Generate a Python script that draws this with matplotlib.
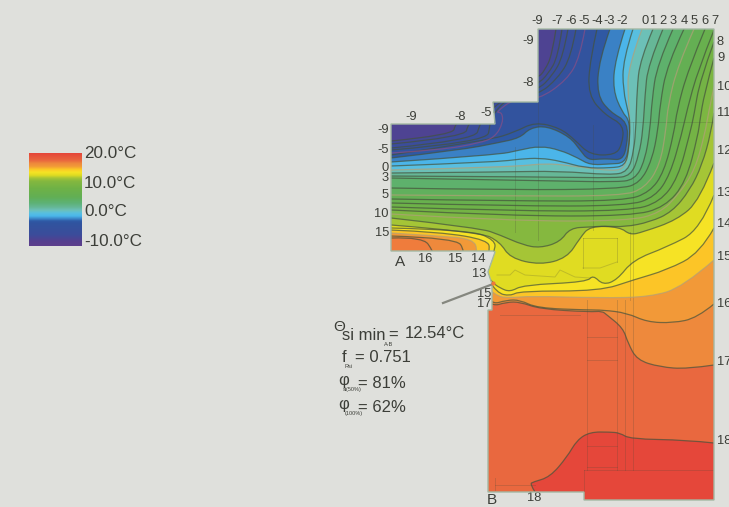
import matplotlib
matplotlib.use("Agg")
import matplotlib.pyplot as plt
import numpy as np
from matplotlib.colors import LinearSegmentedColormap
from matplotlib.patches import PathPatch
from matplotlib.path import Path

plt.rcParams['font.family'] = ['Liberation Sans', 'DejaVu Sans']

# axes run in picture pixels, so everything below was read straight off the reference
BG = "#dfe0dc"
TEXT = "#3c3e38"

# temperature scale of the legend
scale_temps = [-11.7, -10, -8, -4, -3.2, -2.5, -1.5, -0.5, 0.5, 1.5, 3, 5, 8, 10.5, 11.5, 12.5, 13.5, 14.5, 15.5, 16.5, 17.5, 20]
scale_colors = ["#5d3f8c", "#54408f", "#3c4c9a", "#30549f", "#2f5aa6", "#3a82c6", "#4bb6ea", "#58bfe0",
                "#6cc0b8", "#66b797", "#5db274", "#62af55", "#6fb246", "#85b83f", "#a5c536", "#e0dc22",
                "#f6e425", "#fcc726", "#f29a38", "#ee8a3c", "#e9683f", "#e5463a"]

# domain outline
domain_x = [538, 714, 714, 584, 584, 488, 488, 492, 492, 488, 495, 493, 391, 391, 495, 493, 538]
domain_y = [29, 29, 500, 500, 492, 492, 310, 310, 284, 272, 252, 251, 251, 124, 124, 102, 102]

# isotherms, each from the top or right edge round to the left edge
iso_m9 = [(556, 29), (552, 55), (545, 70), (538, 78), (500, 90), (470, 110), (455, 124), (453, 135), (391, 141)]
iso_m8 = [(562, 29), (558, 57), (548, 74), (538, 84), (510, 92), (480, 112), (468, 124), (465, 137), (391, 144)]
iso_m7 = [(568, 29), (563, 57), (552, 76), (538, 90), (510, 94), (485, 115), (480, 124), (475, 140), (391, 148)]
iso_m6 = [(576, 29), (571, 57), (558, 78), (538, 95), (510, 96), (492, 115), (490, 124), (487, 142), (391, 150)]
iso_m5 = [(585, 29), (580, 57), (567, 80), (538, 100), (515, 98), (495, 113), (502, 112), (503, 123), (495, 137), (480, 143), (440, 150), (391, 153)]
iso_m4 = [(597, 29), (590, 60), (588, 95), (605, 115), (624, 125), (622, 145), (615, 155), (590, 155), (575, 140), (560, 128), (535, 122), (515, 132), (490, 140), (391, 155)]
iso_m3 = [(610, 29), (599, 60), (597, 95), (610, 112), (628, 122), (627, 147), (622, 160), (610, 159), (600, 159), (588, 160), (580, 150), (570, 137), (547, 126), (530, 128), (520, 138), (497, 143), (460, 150), (391, 158)]
iso_m2 = [(625, 29), (615, 60), (613, 90), (622, 112), (630, 121), (629, 147), (625, 163), (610, 164), (590, 165), (578, 158), (560, 150), (540, 146), (520, 150), (497, 155), (391, 162)]
iso_m1 = [(633, 29), (623, 60), (623, 90), (629, 115), (630, 125), (629, 150), (625, 166), (610, 168), (585, 168), (560, 161), (540, 158), (520, 159), (497, 162), (391, 166)]
iso_0 = [(642, 29), (628, 67), (628, 97), (630, 120), (629, 147), (625, 168), (613, 171), (580, 167), (547, 163), (513, 167), (391, 170)]
iso_1 = [(653, 29), (640, 60), (637, 90), (636, 125), (634, 150), (628, 172), (610, 175), (560, 171), (500, 172), (391, 173)]
iso_2 = [(663, 29), (648, 65), (645, 95), (643, 130), (639, 155), (631, 176), (612, 178), (560, 177), (391, 176)]
iso_3 = [(673, 29), (657, 65), (652, 100), (650, 130), (645, 160), (635, 180), (614, 182), (560, 181), (391, 178)]
iso_4 = [(684, 29), (667, 65), (660, 105), (658, 130), (652, 160), (640, 183), (620, 189), (510, 190), (391, 188)]
iso_5 = [(694, 29), (678, 65), (668, 105), (666, 130), (660, 165), (645, 188), (622, 196), (510, 196), (391, 195)]
iso_6 = [(705, 29), (688, 70), (677, 110), (674, 133), (664, 172), (650, 192), (625, 201), (510, 201), (391, 199)]
iso_7 = [(714, 30), (698, 70), (687, 110), (682, 133), (670, 175), (655, 197), (628, 206), (510, 206), (391, 203)]
iso_8 = [(714, 42), (700, 80), (694, 115), (690, 133), (678, 178), (660, 202), (630, 211), (510, 211), (391, 207)]
iso_9 = [(714, 58), (704, 95), (700, 120), (698, 135), (686, 182), (665, 207), (632, 216), (510, 216), (391, 210)]
iso_10 = [(714, 87), (708, 115), (705, 133), (695, 170), (678, 195), (660, 213), (628, 221), (510, 221), (391, 214)]
iso_11 = [(714, 113), (711, 133), (702, 165), (690, 190), (672, 212), (650, 222), (625, 227), (605, 226), (590, 227), (570, 228), (560, 242), (540, 248), (523, 245), (500, 235), (480, 228), (391, 218)]
iso_12 = [(714, 163), (700, 200), (677, 220), (643, 232), (630, 235), (620, 227), (590, 226), (580, 238), (567, 258), (540, 265), (510, 258), (500, 242), (480, 232), (391, 225)]
iso_13 = [(714, 195), (700, 230), (667, 247), (633, 260), (617, 280), (603, 285), (593, 275), (587, 282), (523, 285), (510, 292), (500, 288), (493, 283), (482, 270), (495, 251), (495, 240), (470, 230), (391, 228)]
iso_14 = [(714, 228), (700, 253), (667, 270), (633, 280), (600, 291), (520, 291), (510, 296), (497, 293), (482, 270), (490, 251), (488, 240), (440, 232), (391, 230)]
iso_15 = [(714, 260), (683, 287), (650, 297), (600, 298), (530, 296), (510, 298), (495, 296), (470, 270), (478, 251), (473, 239), (440, 236), (391, 233)]
iso_16 = [(714, 304), (697, 318), (673, 323), (647, 322), (627, 313), (603, 310), (587, 310), (537, 308), (520, 300), (507, 300), (490, 305), (460, 270), (465, 251), (456, 238), (391, 236)]
iso_17 = [(714, 365), (687, 369), (660, 367), (637, 360), (628, 343), (623, 328), (607, 315), (602, 311), (590, 312), (540, 309), (520, 302), (507, 302), (490, 307), (440, 270), (433, 251), (423, 237), (391, 238)]
iso_18 = [(714, 443), (687, 440), (630, 439), (620, 433), (610, 432), (590, 432), (577, 440), (567, 457), (550, 477), (533, 482), (530, 484), (535, 492)]

iso_temps = [18, 17, 16, 15, 14, 13, 12, 11, 10, 9, 8, 7, 6, 5, 4, 3, 2, 1, 0, -1, -2, -3, -4, -5, -6, -7, -8, -9]
iso_lines = [iso_18, iso_17, iso_16, iso_15, iso_14, iso_13, iso_12, iso_11, iso_10, iso_9, iso_8, iso_7, iso_6, iso_5,
             iso_4, iso_3, iso_2, iso_1, iso_0, iso_m1, iso_m2, iso_m3, iso_m4, iso_m5, iso_m6, iso_m7, iso_m8, iso_m9]

# warmest pocket in the lower left corner of the left arm
corner_x = [391, 423, 433, 391]
corner_y = [238, 237, 251, 251]

# faint outlines of the window profile under the colours
frame_lines = [
    ([515, 515], [147, 232]), ([538, 538], [102, 240]), ([593, 593], [125, 230]), ([633, 633], [122, 470]),
    ([587, 587], [300, 470]), ([617, 617], [300, 470]), ([625, 625], [300, 470]), ([628, 714], [122, 122]),
    ([584, 714], [470, 470]), ([584, 584], [470, 492]), ([587, 617], [446, 446]), ([587, 617], [467, 467]),
    ([587, 617], [360, 360]), ([587, 617], [337, 337]), ([500, 580], [315, 315]), ([583, 617], [238, 238]),
    ([583, 583], [238, 268]), ([617, 617], [238, 262]), ([630, 630], [232, 300]), ([495, 535], [485, 485]),
    ([495, 495], [478, 490]),
    ([497, 510, 515, 525, 555, 560, 575, 590], [275, 275, 270, 275, 277, 270, 277, 278]),
    ([583, 600, 617], [268, 268, 262]),
]

# numbers along the edges
top_labels = ["-9", "-7", "-6", "-5", "-4", "-3", "-2", "0", "1", "2", "3", "4", "5", "6", "7"]
top_x = [537, 557, 571, 584, 597, 609, 622, 645, 654, 663, 673, 684, 694, 705, 715]
right_labels = ["8", "9", "10", "11", "12", "13", "14", "15", "16", "17", "18"]
right_y = [42, 58, 87, 113, 151, 193, 224, 257, 304, 362, 441]
left_labels = ["-9", "-5", "0", "3", "5", "10", "15"]
left_y = [130, 150, 168, 178, 195, 214, 233]
other_labels = ["-9", "-8", "-9", "-8", "-5", "16", "15", "14", "13", "15", "17", "18"]
other_x = [528, 528, 411, 460, 486, 425, 455, 478, 479, 484, 484, 534]
other_y = [41, 83, 117, 117, 113, 259, 259, 259, 274, 294, 304, 498]

legend_ticks = ["20.0°C", "10.0°C", "0.0°C", "-10.0°C"]
legend_y = [154, 183, 212, 241]

cmap = LinearSegmentedColormap.from_list(
    "isotherm", [((t - scale_temps[0]) / (scale_temps[-1] - scale_temps[0]), c) for t, c in zip(scale_temps, scale_colors)], N=512)


def temp_color(t):
    return cmap((t - scale_temps[0]) / (scale_temps[-1] - scale_temps[0]))


# quadratic pieces through the midpoints, the points themselves act as control points
def curve_codes(pts):
    verts = [pts[0]]
    codes = [Path.MOVETO]
    for i in range(1, len(pts) - 1):
        end = pts[i + 1] if i == len(pts) - 2 else ((pts[i][0] + pts[i + 1][0]) / 2, (pts[i][1] + pts[i + 1][1]) / 2)
        verts += [pts[i], end]
        codes += [Path.CURVE3, Path.CURVE3]
    return verts, codes


def cold_side(pts):
    verts, codes = curve_codes(pts)
    if pts[0][1] < 30 and pts[0][0] < 714:
        closing = [(380, pts[-1][1]), (380, 15), (pts[0][0], 15), pts[0]]
    else:
        closing = [(380, pts[-1][1]), (380, 15), (725, 15), (725, pts[0][1]), pts[0]]
    return Path(verts + closing, codes + [Path.LINETO] * len(closing))


fig = plt.figure(figsize=(7.29, 5.07), dpi=100, facecolor=BG)
ax = fig.add_axes([0, 0, 1, 1])
ax.set_xlim(0, 729)
ax.set_ylim(507, 0)
ax.axis("off")

# coloured domain, warm first and colder bands painted over it
domain = PathPatch(Path(list(zip(domain_x, domain_y)) + [(domain_x[0], domain_y[0])], closed=True),
                   facecolor="#e5473a", edgecolor="none", zorder=1)
ax.add_patch(domain)
for t, pts in zip(iso_temps, iso_lines):
    patch = PathPatch(cold_side(pts), facecolor=temp_color(t - 0.5), edgecolor="none", zorder=2)
    ax.add_patch(patch)
    patch.set_clip_path(domain)
ax.fill(corner_x, corner_y, color="#ef7c3c", lw=0, zorder=2.5)

for fx, fy in frame_lines:
    ln, = ax.plot(fx, fy, color="#4a4a38", lw=0.7, alpha=0.22, zorder=3)
    ln.set_clip_path(domain)

for t, pts in zip(iso_temps, iso_lines):
    color = "#8a4f86" if t == -5 else "#b3a078" if t in (0, 5, 10, 15) else "#44523c"
    verts, codes = curve_codes(pts)
    line = PathPatch(Path(verts, codes), facecolor="none", edgecolor=color, lw=0.9, alpha=0.7, zorder=4)
    ax.add_patch(line)
    line.set_clip_path(domain)

outline = PathPatch(Path(list(zip(domain_x, domain_y)) + [(domain_x[0], domain_y[0])], closed=True),
                    facecolor="none", edgecolor="#a3b8a3", lw=1.0, zorder=5)
ax.add_patch(outline)

# leader line to the cold spot
ax.plot([443, 493], [303, 284], color="#85877f", lw=1.6, zorder=6)
ax.plot([493], [283], marker="o", ms=3, color="#ee7a3a", mew=0, zorder=7)

# legend bar
bar = np.linspace(20, scale_temps[0], 256).reshape(-1, 1)
ax.imshow(bar, cmap=cmap, vmin=scale_temps[0], vmax=scale_temps[-1], extent=[29, 82, 246, 153], aspect="auto", zorder=2)
ax.set_xlim(0, 729)
ax.set_ylim(507, 0)
for label, y in zip(legend_ticks, legend_y):
    ax.text(84, y, label, fontsize=12.3, color=TEXT, va="center", ha="left")

for label, x in zip(top_labels, top_x):
    ax.text(x, 21, label, fontsize=9.3, color=TEXT, va="center", ha="center")
for label, y in zip(right_labels, right_y):
    ax.text(717, y, label, fontsize=9.3, color=TEXT, va="center", ha="left")
for label, y in zip(left_labels, left_y):
    ax.text(389, y, label, fontsize=9.3, color=TEXT, va="center", ha="right")
for label, x, y in zip(other_labels, other_x, other_y):
    ax.text(x, y, label, fontsize=9.3, color=TEXT, va="center", ha="center")
ax.text(400, 262, "A", fontsize=11, color=TEXT, va="center", ha="center")
ax.text(492, 500, "B", fontsize=11, color=TEXT, va="center", ha="center")

# result block
ax.text(339, 327, "Θ", fontsize=11, color=TEXT, va="center", ha="center")
ax.text(342, 335, "si min", fontsize=12, color=TEXT, va="center", ha="left")
ax.text(384, 344, "A-B", fontsize=4, color=TEXT, va="center", ha="left")
ax.text(405, 334, "12.54°C", fontsize=12, color=TEXT, va="center", ha="left")
ax.text(388, 335, "=", fontsize=12, color=TEXT, va="center", ha="left")
ax.text(342, 358, "f", fontsize=12, color=TEXT, va="center", ha="left")
ax.text(345, 366, "Rsi", fontsize=4, color=TEXT, va="center", ha="left")
ax.text(355, 358, "= 0.751", fontsize=12, color=TEXT, va="center", ha="left")
ax.text(344, 380, "φ", fontsize=12, color=TEXT, va="center", ha="center")
ax.text(343, 390, "si(50%)", fontsize=4, color=TEXT, va="center", ha="left")
ax.text(358, 383, "= 81%", fontsize=12, color=TEXT, va="center", ha="left")
ax.text(344, 404, "φ", fontsize=12, color=TEXT, va="center", ha="center")
ax.text(345, 414, "(100%)", fontsize=4, color=TEXT, va="center", ha="left")
ax.text(358, 407, "= 62%", fontsize=12, color=TEXT, va="center", ha="left")

fig.savefig("out.png", dpi=100, facecolor=BG)
